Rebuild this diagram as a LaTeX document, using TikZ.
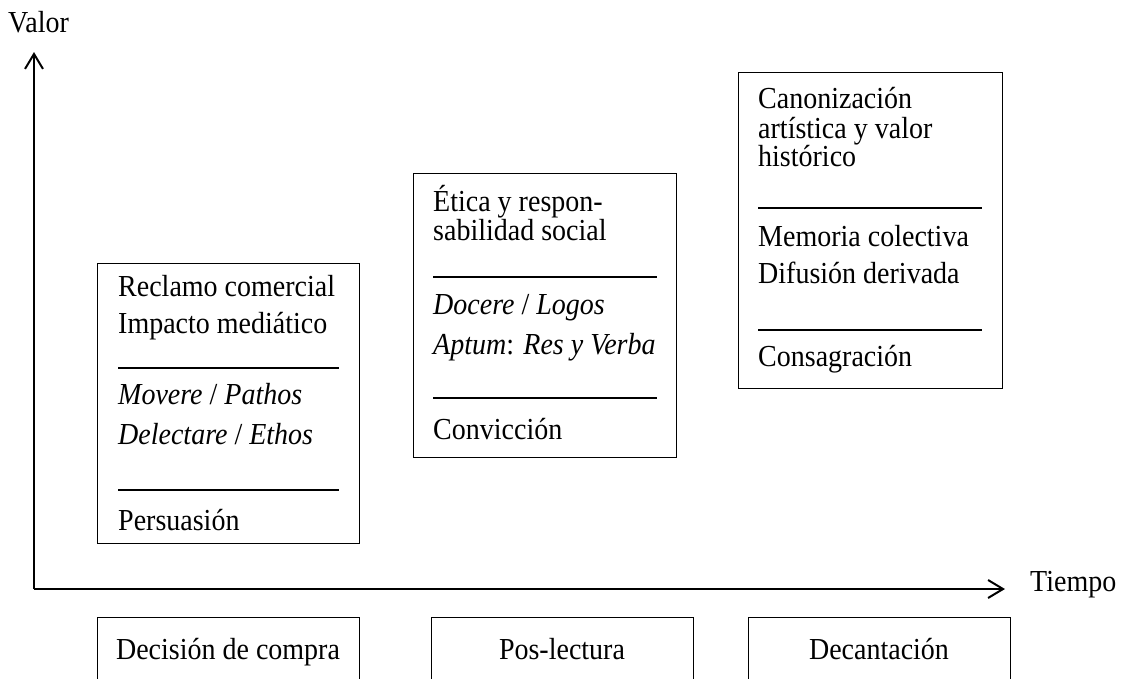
\documentclass[tikz,border=0pt]{standalone}
\usepackage{fontspec}
\setmainfont{Liberation Serif}
\usetikzlibrary{arrows.meta}
\begin{document}
\begin{tikzpicture}[x=1pt,y=-1pt,
  txt/.style={anchor=base west,inner sep=0pt,yscale=1.09,transform shape,font=\fontsize{28}{32}\selectfont},
  ctxt/.style={anchor=base,inner sep=0pt,yscale=1.09,transform shape,font=\fontsize{28}{32}\selectfont},
  frame/.style={draw,line width=1.4pt,anchor=north west,inner sep=0pt},
  sep/.style={line width=1.8pt},
  axis/.style={line width=2pt,-{Straight Barb[length=15pt,width=18pt,line width=2pt]}}]
\useasboundingbox (0,0) rectangle (1121,678);
\clip (0,0) rectangle (1121,678);
% axes
\coordinate (o) at (34,589);
\coordinate (ytip) at (34,52);
\coordinate (xtip) at (1005,589);
\draw[axis] (o) -- (ytip);
\draw[axis] (o) -- (xtip);
\node[txt] (valor) at (8,32) {Valor};
\node[txt] (tiempo) at (1030,591) {Tiempo};
% box 1
\node[frame,minimum width=262pt,minimum height=280pt] (b1) at (97,263) {};
\node[txt] (b1a) at (118,296) {Reclamo comercial};
\node[txt] (b1b) at (118,333) {Impacto mediático};
\coordinate (b1l1a) at (118,368); \coordinate (b1l1b) at (339,368);
\draw[sep] (b1l1a) -- (b1l1b);
\node[txt] (b1c) at (118,404) {\textit{Movere} / \textit{Pathos}};
\node[txt] (b1d) at (118,444) {\textit{Delectare} / \textit{Ethos}};
\coordinate (b1l2a) at (118,490); \coordinate (b1l2b) at (339,490);
\draw[sep] (b1l2a) -- (b1l2b);
\node[txt] (b1e) at (118,530) {Persuasión};
% box 2
\node[frame,minimum width=263pt,minimum height=284pt] (b2) at (413,173) {};
\node[txt] (b2a) at (433,211) {Ética y respon-};
\node[txt] (b2b) at (433,240) {sabilidad social};
\coordinate (b2l1a) at (433,277); \coordinate (b2l1b) at (657,277);
\draw[sep] (b2l1a) -- (b2l1b);
\node[txt] (b2c) at (433,314) {\textit{Docere} / \textit{Logos}};
\node[txt] (b2d) at (433,354) {\textit{Aptum}: \textit{Res y Verba}};
\coordinate (b2l2a) at (433,398); \coordinate (b2l2b) at (657,398);
\draw[sep] (b2l2a) -- (b2l2b);
\node[txt] (b2e) at (433,439) {Convicción};
% box 3
\node[frame,minimum width=264pt,minimum height=316pt] (b3) at (738,72) {};
\node[txt] (b3a) at (758,108) {Canonización};
\node[txt] (b3b) at (758,138) {artística y valor};
\node[txt] (b3c) at (758,166) {histórico};
\coordinate (b3l1a) at (758,208); \coordinate (b3l1b) at (982,208);
\draw[sep] (b3l1a) -- (b3l1b);
\node[txt] (b3d) at (758,246) {Memoria colectiva};
\node[txt] (b3e) at (758,283) {Difusión derivada};
\coordinate (b3l2a) at (758,330); \coordinate (b3l2b) at (982,330);
\draw[sep] (b3l2a) -- (b3l2b);
\node[txt] (b3f) at (758,366) {Consagración};
% bottom boxes
\node[frame,minimum width=262pt,minimum height=80pt] (p1) at (97,617) {};
\node[frame,minimum width=262pt,minimum height=80pt] (p2) at (431,617) {};
\node[frame,minimum width=262pt,minimum height=80pt] (p3) at (748,617) {};
\node[ctxt] (p1t) at (228,659) {Decisión de compra};
\node[ctxt] (p2t) at (562,659) {Pos-lectura};
\node[ctxt] (p3t) at (879,659) {Decantación};
\end{tikzpicture}
\end{document}
